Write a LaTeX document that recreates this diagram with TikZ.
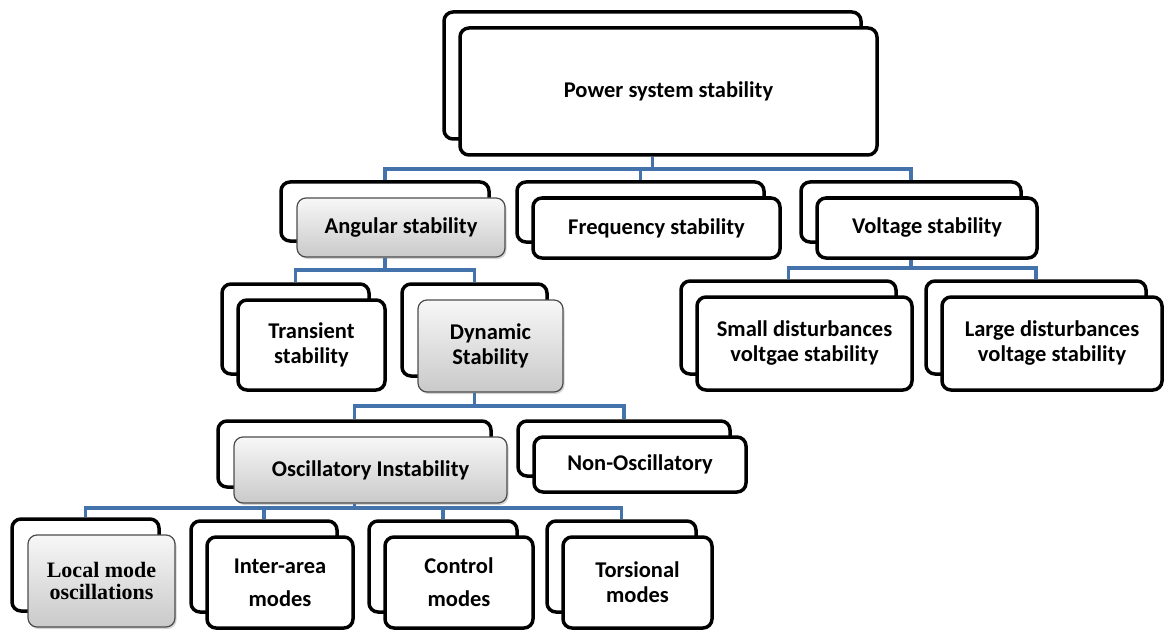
\documentclass[tikz,border=0pt]{standalone}
\usepackage{fontspec}
\setmainfont{Carlito}
\newfontfamily\serifbf{Liberation Serif}
\usetikzlibrary{shadows}

\definecolor{linkblue}{RGB}{68,114,170}

\tikzset{
  backbox/.style={draw, line width=3.5pt, rounded corners=9pt, fill=white},
  frontbox/.style={draw, line width=3.5pt, rounded corners=9pt, fill=white,
    align=center, font=\bfseries\fontsize{22.5}{25}\selectfont},
  graybox/.style={draw=black!70, line width=1.2pt, top color=gray!6, bottom color=gray!42,
    drop shadow={shadow xshift=1.5pt, shadow yshift=-2pt, opacity=0.35}},
  link/.style={draw=linkblue, line width=3.3pt}
}

% back box + front box, front centred at (#3,#4)
\newcommand{\stackbox}[7][]{%
  \node[backbox, minimum width=#5pt, minimum height=#6pt] (#2-b) at (#3-16,#4-16) {};
  \node[frontbox, minimum width=#5pt, minimum height=#6pt, #1] (#2) at (#3,#4) {#7};
}

\begin{document}
\begin{tikzpicture}[x=1pt, y=-1pt]
  \useasboundingbox (0,0) rectangle (1169,631);

  % Top level
  \stackbox{pow}{668.5}{91.5}{417}{127}{Power system stability}

  % Second level
  \stackbox[graybox]{ang}{401}{227.5}{208}{59}{Angular stability}
  \stackbox{frq}{656.5}{228}{247}{60}{Frequency stability}
  \stackbox{vol}{927}{228}{220}{60}{Voltage stability}

  % Under angular and voltage
  \stackbox{tra}{311.5}{345}{147}{90}{Transient\\stability}
  \stackbox[graybox]{dyn}{490.5}{346}{145}{92}{Dynamic\\Stability}
  \stackbox{smd}{804.5}{343.5}{215}{93}{Small disturbances\\voltgae stability}
  \stackbox{lgd}{1052}{343.5}{220}{93}{Large disturbances\\voltage stability}

  % Under dynamic
  \stackbox[graybox]{osc}{370.5}{470}{273}{66}{Oscillatory Instability}
  \stackbox{non}{640}{464.5}{212}{55}{Non-Oscillatory}

  % Modes
  \stackbox[graybox, font=\serifbf\bfseries\fontsize{22}{22}\selectfont]{loc}{101.5}{581}{147}{92}{Local mode\\oscillations}
  \stackbox{int}{280}{582.5}{146}{91}{Inter-area\\[8pt]modes}
  \stackbox{ctl}{459}{582.5}{148}{91}{Control\\[8pt]modes}
  \stackbox{tor}{637.5}{582.5}{149}{91}{Torsional\\modes}

  % Connectors
  \coordinate (bus1) at (0,169);
  \coordinate (bus2) at (0,270);
  \coordinate (bus3) at (0,406);
  \coordinate (bus4) at (0,508);
  \coordinate (bus5) at (0,268);

  \draw[link] (pow-b |- pow.south) -- (pow-b |- bus1);
  \foreach \c in {ang,frq,vol}
    \draw[link] (pow-b |- bus1) -| (\c-b.north);

  \draw[link] (ang-b |- ang.south) -- (ang-b |- bus2);
  \foreach \c in {tra,dyn}
    \draw[link] (ang-b |- bus2) -| (\c-b.north);

  \draw[link] (vol-b |- vol.south) -- (vol-b |- bus5);
  \foreach \c in {smd,lgd}
    \draw[link] (vol-b |- bus5) -| (\c-b.north);

  \draw[link] (dyn-b |- dyn.south) -- (dyn-b |- bus3);
  \foreach \c in {osc,non}
    \draw[link] (dyn-b |- bus3) -| (\c-b.north);

  \draw[link] (osc-b |- osc.south) -- (osc-b |- bus4);
  \foreach \c in {loc,int,ctl,tor}
    \draw[link] (osc-b |- bus4) -| (\c-b.north);
\end{tikzpicture}
\end{document}
